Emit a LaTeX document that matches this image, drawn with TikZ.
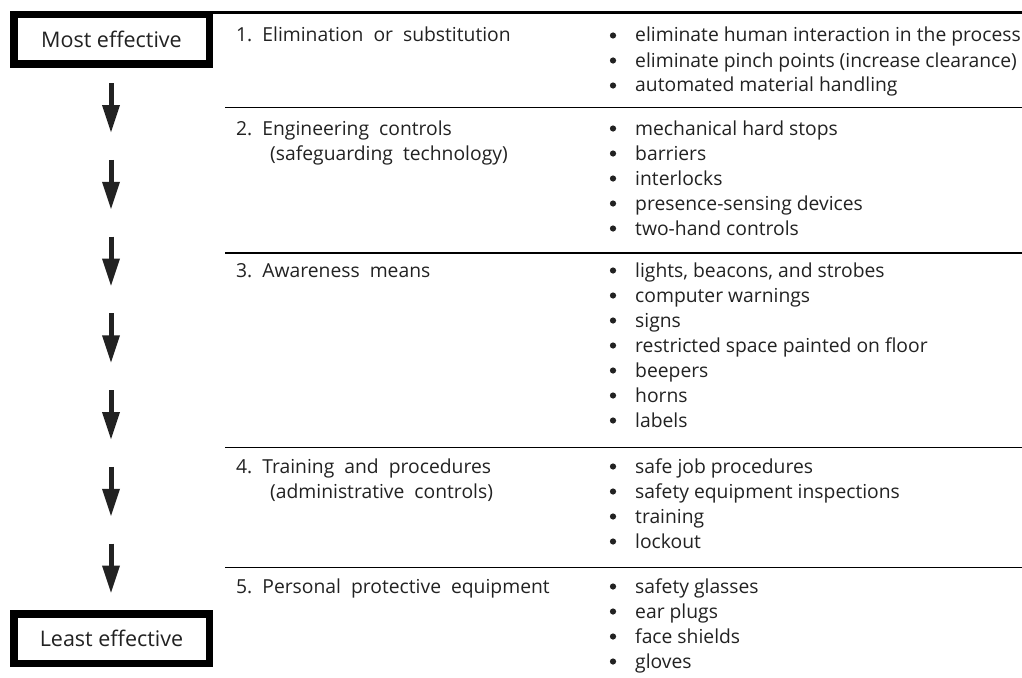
\documentclass[tikz,border=0pt]{standalone}
\usepackage{fontspec}
\setmainfont{Open Sans}
\usetikzlibrary{arrows.meta}
\definecolor{ink}{HTML}{222222}
\tikzset{
  rankbox/.style={draw=black, line width=7.5pt, minimum width=195.5pt, minimum height=49.5pt,
    inner sep=0pt, font=\fontsize{21.5}{24}\selectfont, text=ink},
  rule/.style={draw=black, line width=1.6pt},
  toprule/.style={draw=black, line width=2.6pt},
  label/.style={anchor=base west, inner sep=0pt, font=\fontsize{19.3}{25}\selectfont, text=ink},
  item/.style={label},
  dot/.style={fill=ink, draw=none, circle, minimum size=6.2pt, inner sep=0pt},
  flowarrow/.style={draw=ink, line width=5pt, -{Triangle[length=28pt,width=16.5pt]}}
}
\begin{document}
\begin{tikzpicture}[x=1pt,y=-1pt]
\useasboundingbox (0,0) rectangle (1022,677);
\fill[white] (0,0) rectangle (1022,677);

% ends of the scale
\node[rankbox] (most) at (111.5,39.5) {Most effective};
\node[rankbox] (least) at (111.5,638.5) {Least effective};

% arrows down the scale
\foreach \k in {0,...,6}{
  \coordinate (a\k) at (111,{83+76.75*\k});
  \coordinate (b\k) at (111,{133+76.75*\k});
  \draw[flowarrow] (a\k) -- (b\k);
}

% table rules
\coordinate (t0) at (213,12.8);
\coordinate (t1) at (1022,12.8);
\draw[toprule] (t0) -- (t1);
\foreach \y [count=\i] in {107.5,253,447.5,567.5}{
  \coordinate (l\i) at (225,\y);
  \coordinate (r\i) at (1022,\y);
  \draw[rule] (l\i) -- (r\i);
}

% row headings
\node[label] (h1) at (236,42) {1.\ \ Elimination\ \ or\ \ substitution};
\node[label] (h2) at (236,135) {2.\ \ Engineering\ \ controls};
\node[label] (h2b) at (270,160) {(safeguarding\ \ technology)};
\node[label] (h3) at (236,277) {3.\ \ Awareness\ \ means};
\node[label] (h4) at (236,473) {4.\ \ Training\ \ and\ \ procedures};
\node[label] (h4b) at (270,498) {(administrative\ \ controls)};
\node[label] (h5) at (236,593) {5.\ \ Personal\ \ protective\ \ equipment};

% bulleted measures
\foreach \txt [count=\n] in {
  {eliminate human interaction in the process},
  {eliminate pinch points (increase clearance)},
  {automated material handling}}{
  \node[dot] (d1\n) at (613,{42-6.5+25*(\n-1)}) {};
  \node[item] (i1\n) at (635,{42+25*(\n-1)}) {\txt};
}
\foreach \txt [count=\n] in {
  {mechanical hard stops}, {barriers}, {interlocks},
  {presence-sensing devices}, {two-hand controls}}{
  \node[dot] (d2\n) at (613,{135-6.5+25*(\n-1)}) {};
  \node[item] (i2\n) at (635,{135+25*(\n-1)}) {\txt};
}
\foreach \txt [count=\n] in {
  {lights, beacons, and strobes}, {computer warnings}, {signs},
  {restricted space painted on floor}, {beepers}, {horns}, {labels}}{
  \node[dot] (d3\n) at (613,{277-6.5+25*(\n-1)}) {};
  \node[item] (i3\n) at (635,{277+25*(\n-1)}) {\txt};
}
\foreach \txt [count=\n] in {
  {safe job procedures}, {safety equipment inspections}, {training}, {lockout}}{
  \node[dot] (d4\n) at (613,{473-6.5+25*(\n-1)}) {};
  \node[item] (i4\n) at (635,{473+25*(\n-1)}) {\txt};
}
\foreach \txt [count=\n] in {
  {safety glasses}, {ear plugs}, {face shields}, {gloves}}{
  \node[dot] (d5\n) at (613,{593-6.5+25*(\n-1)}) {};
  \node[item] (i5\n) at (635,{593+25*(\n-1)}) {\txt};
}
\end{tikzpicture}
\end{document}
